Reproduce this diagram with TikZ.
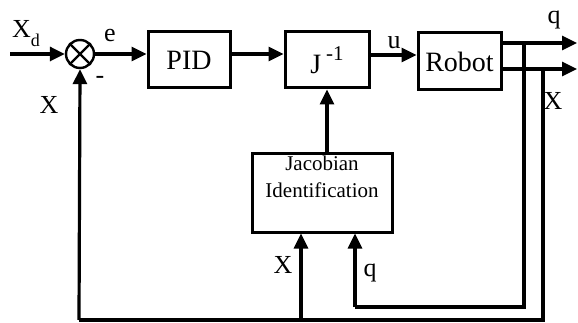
\documentclass[tikz,border=0pt]{standalone}
\usepackage{fontspec}
\setmainfont{Liberation Serif}
\usetikzlibrary{arrows.meta}
\begin{document}
\begin{tikzpicture}[x=1pt,y=-1pt,
  blk/.style={draw,line width=3pt,inner sep=0pt,font=\fontsize{28}{30}\selectfont},
  wire/.style={line width=3.2pt},
  arr/.style={wire,-{Triangle[length=15pt,width=14pt]}},
  lbl/.style={inner sep=0pt,font=\fontsize{26}{28}\selectfont}]
\useasboundingbox (0,0) rectangle (578,323);
% blocks
\node[draw,circle,line width=2.4pt,minimum size=28pt,inner sep=0pt] (sum) at (80,54) {};
\draw[line width=2.4pt] (sum.north west) -- (sum.south east) (sum.north east) -- (sum.south west);
\node[blk,minimum width=82pt,minimum height=56pt] (pid) at (189,60) {PID};
\node[blk,minimum width=84pt,minimum height=56pt] (jinv) at (327,60) {J\,\raisebox{0.45em}{\fontsize{21}{21}\selectfont -1}};
\node[blk,minimum width=83pt,minimum height=57pt] (robot) at (459.5,61.5) {Robot};
\node[blk,minimum width=140pt,minimum height=78pt,align=center,font=\fontsize{21}{27}\selectfont] (jac) at (322,193) {Jacobian\\Identification\\[6pt]};
% coordinates
\coordinate (in) at (10,54);
\coordinate (qo) at (501,43);
\coordinate (xo) at (501,69);
\coordinate (qe) at (577,43);
\coordinate (xe) at (577,69);
\coordinate (qv) at (524,43);
\coordinate (xv) at (543,69);
\coordinate (qb) at (524,307);
\coordinate (xb) at (543,320);
\coordinate (ql) at (355,307);
\coordinate (xl) at (79,320);
\coordinate (xj) at (301,320);
\coordinate (pj) at (230,54);
\coordinate (ju) at (369,55);
% connectors
\draw[arr] (in) -- (sum.west);
\draw[arr] (sum.east) -- (sum.east -| pid.west);
\draw[arr] (pj) -- (pj -| jinv.west);
\draw[arr] (ju) -- (ju -| robot.west);
\draw[arr] (qo) -- (qe);
\draw[arr] (xo) -- (xe);
\draw[wire] (qv) -- (qb) -- (ql);
\draw[arr] (ql) -- (ql |- jac.south);
\draw[wire] (xv) -- (xb) -- (xl);
\draw[arr] (xl) -- (sum.south);
\draw[arr] (xj) -- (xj |- jac.south);
\draw[arr] (jinv.south |- jac.north) -- (jinv.south);
% labels
\node[lbl] (lxd) at (26,34) {X\raisebox{-0.35em}{\fontsize{18}{18}\selectfont d}};
\node[lbl] (le) at (110,36) {e};
\node[lbl] (lm) at (100,80) {-};
\node[lbl] (lx1) at (49,105) {X};
\node[lbl] (lu) at (394,43) {u};
\node[lbl] (lq1) at (554,20) {q};
\node[lbl] (lx2) at (553,101) {X};
\node[lbl] (lx3) at (283,265) {X};
\node[lbl] (lq2) at (370,273) {q};
\end{tikzpicture}
\end{document}
